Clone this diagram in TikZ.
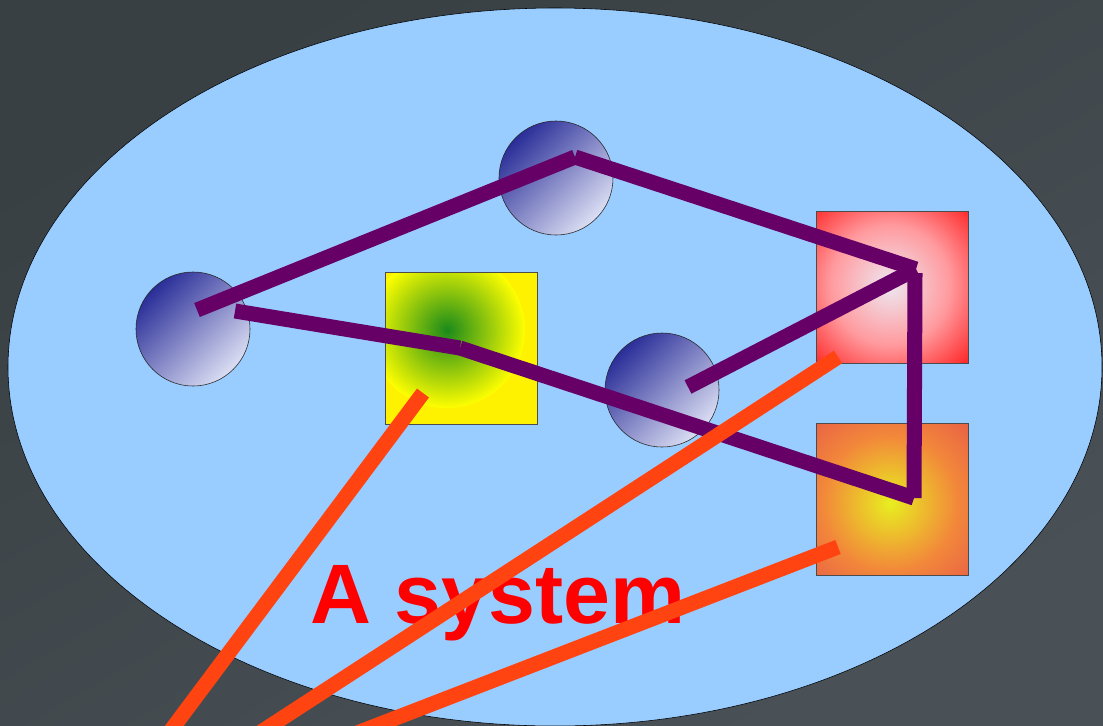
\documentclass[tikz,border=0pt]{standalone}
\usepackage{fontspec}
\setmainfont{Liberation Sans}
\usetikzlibrary{positioning}

\definecolor{bgdark}{HTML}{394043}
\definecolor{bglight}{HTML}{495157}
\definecolor{skyfill}{HTML}{99CCFF}
\definecolor{balldark}{HTML}{2A2E98}
\definecolor{balllight}{HTML}{DCDFF3}
\definecolor{linkpurple}{HTML}{660066}
\definecolor{wireorange}{HTML}{FF4411}
\definecolor{leafgreen}{HTML}{1A8A1A}
\definecolor{hotred}{HTML}{FF1A1A}
\definecolor{hotpink}{HTML}{FF9A9E}
\definecolor{paleglow}{HTML}{EEE8F2}
\definecolor{embergold}{HTML}{E8EE20}
\definecolor{emberorange}{HTML}{F2883A}
\definecolor{emberred}{HTML}{E85A48}

\pgfdeclareradialshading{hotglow}{\pgfpoint{0bp}{0bp}}{%
  color(0bp)=(paleglow); color(13bp)=(hotpink); color(25bp)=(hotred);
  color(50bp)=(hotred)}
\pgfdeclareradialshading{emberglow}{\pgfpoint{0bp}{0bp}}{%
  color(0bp)=(embergold); color(14bp)=(emberorange); color(25bp)=(emberred);
  color(50bp)=(emberred)}

\begin{document}
\begin{tikzpicture}[x=0.025cm, y=-0.025cm,
        ball/.style={circle, draw=black!85, thin, minimum size=2.85cm,
            inner sep=0pt, top color=balldark, bottom color=balllight,
            shading angle=45},
        block/.style={rectangle, minimum size=3.775cm, inner sep=0pt},
        rim/.style={draw=black!70, thin},
        link/.style={linkpurple, line width=0.375cm},
        wire/.style={wireorange, line width=0.375cm}
      ]
      % Canvas
      \clip (0,0) rectangle (1103,725);
      \shade[top color=bgdark, bottom color=bglight, shading angle=30]
          (0,0) rectangle (1103,725);

      % System boundary
      \draw[fill=skyfill, draw=black, thin] (555,367) ellipse (547 and 359);

      % Squares
      \node[block, fill=yellow]   at (461.5,348)   (leaf)  {};
      \node[block, fill=hotred]   at (892.5,287.5) (hot)   {};
      \node[block, fill=emberred] at (892.5,499.5) (ember) {};

      % Glow inside the squares
      \begin{scope}
        \clip (leaf.south west) rectangle (leaf.north east);
        \shade[inner color=leafgreen, outer color=yellow] (447,330) circle (78);
      \end{scope}
      \begin{scope}
        \clip (hot.south west) rectangle (hot.north east);
        \shade[shading=hotglow] (890,285) circle (115);
      \end{scope}
      \begin{scope}
        \clip (ember.south west) rectangle (ember.north east);
        \shade[shading=emberglow] (890,503) circle (120);
      \end{scope}
      \draw[rim] (leaf.south west)  rectangle (leaf.north east);
      \draw[rim] (hot.south west)   rectangle (hot.north east);
      \draw[rim] (ember.south west) rectangle (ember.north east);

      % Circles
      \node[ball] at (193,329) (left)  {};
      \node[ball] at (556,178) (top)   {};
      \node[ball] at (662,390) (inner) {};

      % Link end points
      \coordinate (leftA)  at (197,310);
      \coordinate (leftB)  at (235,311);
      \coordinate (peak)   at (575,157);
      \coordinate (knee)   at (460,348);
      \coordinate (hotA)   at (916,269);
      \coordinate (hotB)   at (915,273);
      \coordinate (innerA) at (688,387);
      \coordinate (emberA) at (914,498);

      % Purple links
      \draw[link] (leftA)  -- (peak);
      \draw[link] (peak)   -- (hotA);
      \draw[link] (hotA)   -- (innerA);
      \draw[link] (leftB)  -- (knee);
      \draw[link] (knee)   -- (emberA);
      \draw[link] (emberA) -- (hotB);

      % Label
      \node[anchor=base, text=red, font=\fontsize{60}{72}\selectfont\bfseries,
          inner sep=0pt] at (498,623) (title) {A system};

      % Orange wires leaving the system
      \coordinate (leafW)  at (423,393);
      \coordinate (hotW)   at (838,357);
      \coordinate (emberW) at (838,547);
      \coordinate (outA) at (160,745);
      \coordinate (outB) at (241,745);
      \coordinate (outC) at (326,745);
      \draw[wire] (leafW)  -- (outA);
      \draw[wire] (hotW)   -- (outB);
      \draw[wire] (emberW) -- (outC);
    \end{tikzpicture}
\end{document}
